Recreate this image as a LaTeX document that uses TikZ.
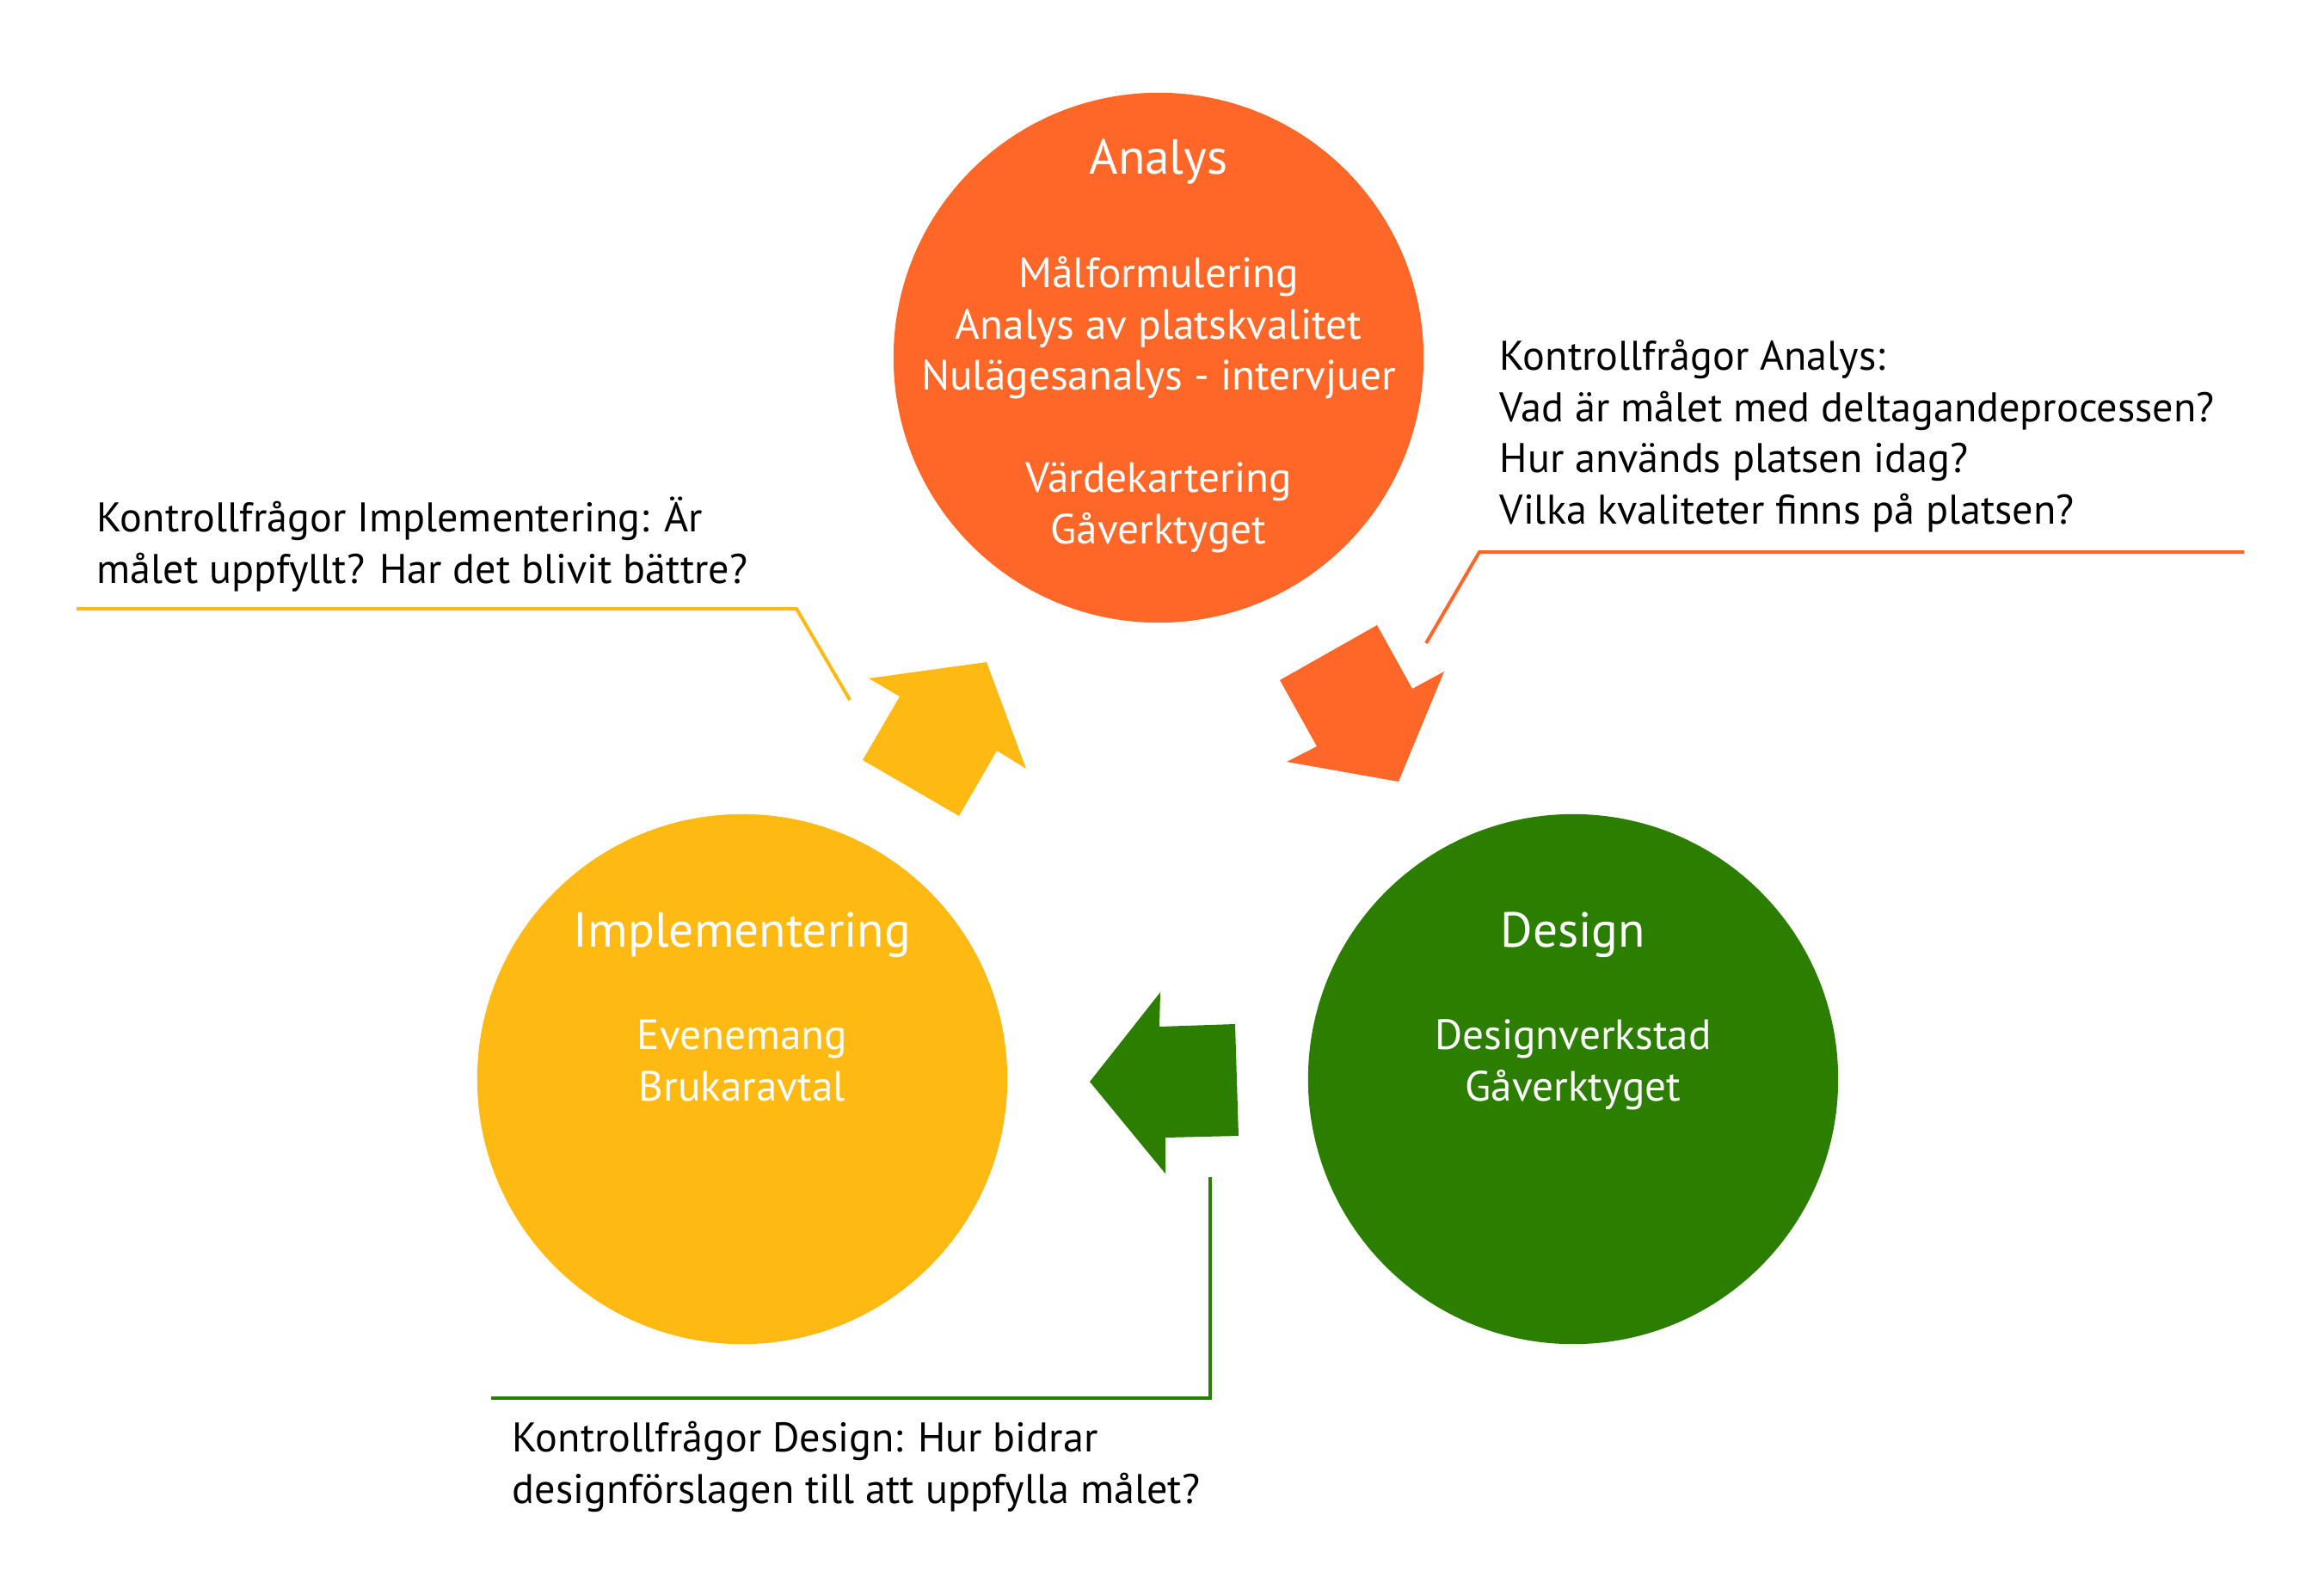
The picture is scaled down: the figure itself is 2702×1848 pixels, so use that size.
\documentclass[tikz,border=0pt]{standalone}
\usepackage{fontspec}
\setmainfont{PT Sans}
\usetikzlibrary{positioning}
\definecolor{analysorange}{RGB}{255,103,40}
\definecolor{implyellow}{RGB}{254,185,19}
\definecolor{designgreen}{RGB}{44,126,0}

\begin{document}
\begin{tikzpicture}[x=0.01cm,y=-0.01cm,
phase/.style={circle,minimum size=6.16cm,inner sep=0pt,outer sep=0pt},
title/.style={text=white,font=\fontsize{16.3}{20}\selectfont,inner sep=0pt,anchor=base},
body/.style={text=white,font=\fontsize{14}{16.9}\selectfont,inner sep=0pt,anchor=base,align=center},
question/.style={font=\fontsize{13.7}{16.9}\selectfont,inner sep=0pt,anchor=base west,align=left},
leader/.style={line width=0.04cm}]

\useasboundingbox (0,0) rectangle (2702,1848);

\node [phase, fill=analysorange] (A) at (1347,416) {};
\node [phase, fill=implyellow] (I) at (863,1255) {};
\node [phase, fill=designgreen] (D) at (1829,1255) {};

% base anchor sits on the last line
\node [title] (At) at ([yshift=2.13cm]A.center) {Analys};
\node [body] (Ab) at ([yshift=-2.16cm]A.center) {Målformulering\\Analys av platskvalitet\\Nulägesanalys - intervjuer\\[16.9pt]Värdekartering\\Gåverktyget};
\node [title] (It) at ([yshift=1.53cm]I.center) {Implementering};
\node [body] (Ib) at ([yshift=-0.25cm]I.center) {Evenemang\\Brukaravtal};
\node [title] (Dt) at ([yshift=1.53cm]D.center) {Design};
\node [body] (Db) at ([yshift=-0.25cm]D.center) {Designverkstad\\Gåverktyget};

\fill [analysorange] (1488,791) -- (1601,727) -- (1642,801) -- (1679,781) -- (1626,909) -- (1496,886) -- (1531,868) -- cycle;
\fill [designgreen] (1267,1258) -- (1349,1154) -- (1348,1194) -- (1436,1191) -- (1440,1321) -- (1355,1323) -- (1355,1365) -- cycle;
\fill [implyellow] (1147,770) -- (1193,894) -- (1159,873) -- (1115,949) -- (1003,884) -- (1046,810) -- (1010,789) -- cycle;

\node [question] (QA) at (1743,609) {Kontrollfrågor Analys:\\Vad är målet med deltagandeprocessen?\\Hur används platsen idag?\\Vilka kvaliteter finns på platsen?};
\node [question] (QI) at (112,678) {Kontrollfrågor Implementering: Är\\målet uppfyllt? Har det blivit bättre?};
\node [question] (QD) at (595,1748) {Kontrollfrågor Design: Hur bidrar\\designförslagen till att uppfylla målet?};

\coordinate (a1) at (1658,748);
\coordinate (a2) at (1720,642);
\coordinate (a3) at (2609,642);
\coordinate (i1) at (89,708);
\coordinate (i2) at (926,708);
\coordinate (i3) at (988,814);
\coordinate (d1) at (1407,1369);
\coordinate (d2) at (1407,1626);
\coordinate (d3) at (571,1626);

\draw [leader, analysorange] (a1) -- (a2) -- (a3);
\draw [leader, implyellow] (i1) -- (i2) -- (i3);
\draw [leader, designgreen] (d1) -- (d2) -- (d3);
\end{tikzpicture}
\end{document}
